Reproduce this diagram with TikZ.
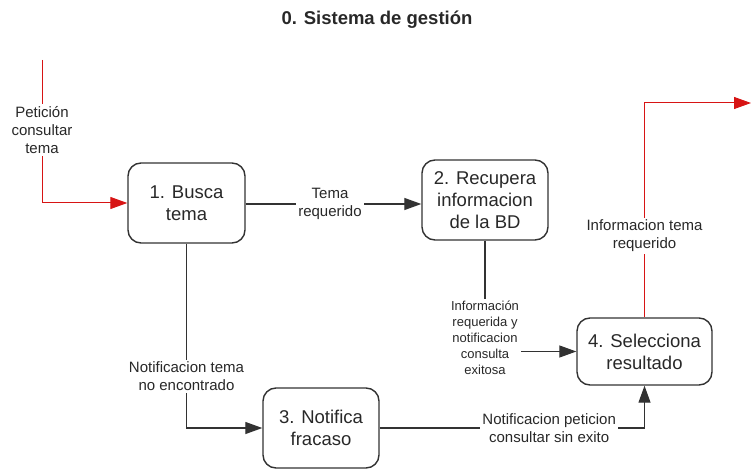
\documentclass[tikz,border=0pt]{standalone}
\usepackage{fontspec}
\setmainfont{Liberation Sans}
\usetikzlibrary{arrows.meta}
\definecolor{linea}{RGB}{50,50,50}
\definecolor{rojo}{RGB}{215,20,20}
\definecolor{texto}{RGB}{40,40,40}

\begin{document}
\begin{tikzpicture}[x=1pt,y=-1pt,
  proceso/.style={draw=linea,line width=1.4pt,rounded corners=13pt,align=center,
    font=\fontsize{18.5}{22}\selectfont,text=texto,inner sep=0pt},
  etiq/.style={fill=white,align=center,font=\fontsize{15}{18}\selectfont,text=texto,inner sep=2pt},
  flecha/.style={draw=linea,line width=1.2pt,-{Triangle[length=17pt,width=12pt]}},
  flujo/.style={draw=rojo,line width=1pt,-{Triangle[length=17pt,width=12pt]}}]
  \useasboundingbox (0,0) rectangle (751,470);

  \node[font=\bfseries\fontsize{18.5}{21}\selectfont,text=texto] (titulo) at (377,20) {0. Sistema de gestión};

  \node[proceso,minimum width=117pt,minimum height=80pt] (busca) at (186.5,203) {1. Busca\\tema};
  \node[proceso,minimum width=126pt,minimum height=80pt] (recupera) at (485,200) {2. Recupera\\informacion\\de la BD};
  \node[proceso,minimum width=116pt,minimum height=80pt] (notifica) at (321,428) {3. Notifica\\fracaso};
  \node[proceso,minimum width=135pt,minimum height=67pt] (selecciona) at (644.5,351.5) {4. Selecciona\\resultado};

  \coordinate (inicio) at (42,60);
  \coordinate (salida) at (751,103);

  \draw[flujo] (inicio) |- node[etiq,pos=0.245] (lblpeticion) {Petición\\consultar\\tema} (busca.west);
  \draw[flecha] ([yshift=-1pt]busca.east) -- node[etiq,pos=0.48] (lbltema) {Tema\\requerido} ([yshift=-1pt]recupera.west |- busca.east);
  \draw[flecha] (recupera.south) |- node[etiq,pos=0.5,yshift=14pt,font=\fontsize{13}{16}\selectfont] (lblinfo)
    {Información\\requerida y\\notificacion\\consulta\\exitosa} (selecciona.west);
  \draw[flecha] (busca.south) |- node[etiq,pos=0.36] (lblnoenc) {Notificacion tema\\no encontrado} (notifica.west);
  \draw[flecha] (notifica.east) -| node[etiq,pos=0.32] (lblsinexito) {Notificacion peticion\\consultar sin exito} (selecciona.south);
  \draw[flujo] (selecciona.north) |- node[etiq,pos=0.19] (lblresult) {Informacion tema\\requerido} (salida);
\end{tikzpicture}
\end{document}
